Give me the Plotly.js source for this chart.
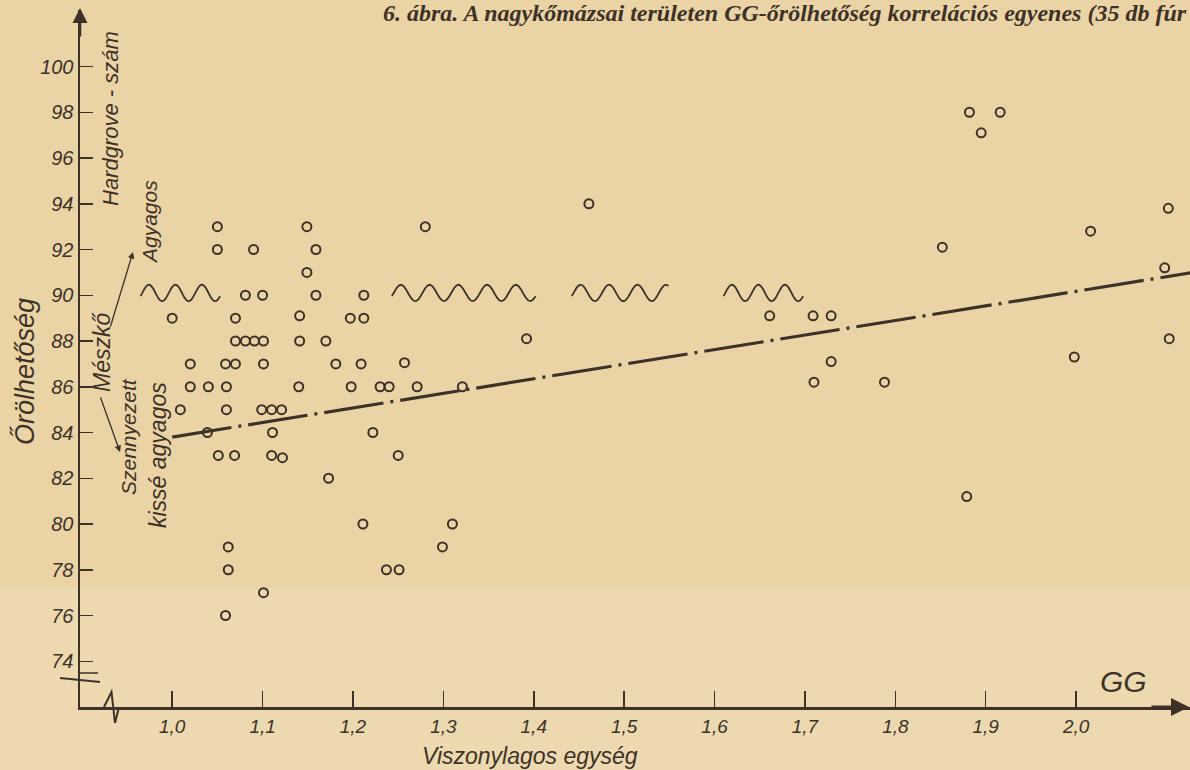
<!DOCTYPE html>
<html>
<head>
<meta charset="utf-8">
<script src="https://cdn.plot.ly/plotly-3.0.1.min.js"></script>
<style>
  html, body { margin: 0; padding: 0; background: #EAD4A6; }
  #chart { width: 1190px; height: 770px; }
</style>
</head>
<body>
<div id="chart"></div>
<script>
// ---- data ----
const gg = [
  1.050, 1.050, 1.090, 1.149, 1.159, 1.149, 1.159, 1.081, 1.100, 1.212,
  1.000, 1.070, 1.141, 1.197, 1.212,
  1.070, 1.081, 1.091, 1.101, 1.141, 1.170, 1.392,
  1.020, 1.059, 1.070, 1.101, 1.181, 1.209, 1.257,
  1.020, 1.040, 1.060, 1.140, 1.198, 1.230, 1.240, 1.271, 1.321,
  1.009, 1.060, 1.099, 1.110, 1.121,
  1.039, 1.111, 1.222,
  1.051, 1.069, 1.110, 1.122, 1.250,
  1.173, 1.211, 1.310, 1.062, 1.299, 1.062, 1.237, 1.251, 1.101, 1.059,
  1.280, 1.461,
  1.661, 1.709, 1.729, 1.729, 1.710, 1.788,
  1.852, 1.879, 1.882, 1.916, 1.895, 1.998, 2.016, 2.098, 2.102, 2.103
];
const hgi = [
  93, 92, 92, 93, 92, 91, 90, 90, 90, 90,
  89, 89, 89.1, 89, 89,
  88, 88, 88, 88, 88, 88, 88.1,
  87, 87, 87, 87, 87, 87, 87.05,
  86, 86, 86, 86, 86, 86, 86, 86, 86,
  85, 85, 85, 85, 85,
  84, 84, 84,
  83, 83, 83, 82.9, 83,
  82, 80, 80, 79, 79, 78, 78, 78, 77, 76,
  93, 94,
  89.1, 89.1, 89.1, 87.1, 86.2, 86.2,
  92.1, 81.2, 98, 98, 97.1, 87.3, 92.8, 91.2, 93.8, 88.1
];
// regression line end points
const fitX = [1.0, 2.13];
const fitY = [83.8, 91.0];
// x ticks
const xTickVals = [1.0, 1.1, 1.2, 1.3, 1.4, 1.5, 1.6, 1.7, 1.8, 1.9, 2.0];
const xTickText = ['1,0', '1,1', '1,2', '1,3', '1,4', '1,5', '1,6', '1,7', '1,8', '1,9', '2,0'];
// y ticks
const yTickVals = [74, 76, 78, 80, 82, 84, 86, 88, 90, 92, 94, 96, 98, 100];
const yTickText = ['74', '76', '78', '80', '82', '84', '86', '88', '90', '92', '94', '96', '98', '100'];
// wavy symbols at the 90 level
const waveStart = [0.965, 1.243, 1.442, 1.610];
const waveEnd = [1.053, 1.402, 1.549, 1.698];
const waveCycles = [3, 5, 3.4, 3];
const waveLevel = 90.1;

// ---- style ----
const INK = '#3e3228';
const BG = '#EAD4A6';
const BG_LOW = '#ECD9AF';
const HAND = '"Liberation Sans", Arial, sans-serif';
const L = 80, T = 10, W = 1110, H = 697;
const px = v => (v - L) / W;
const py = v => (T + H - v) / H;

const shapes = [];
// lighter lower band of the paper (scan tone)
shapes.push({ type: 'rect', xref: 'paper', yref: 'paper', layer: 'below',
  x0: px(0), x1: px(1190), y0: py(770), y1: py(588), fillcolor: BG_LOW, line: { width: 0 } });
// wave paths
for (let i = 0; i < waveStart.length; i++) {
  const n = 60;
  let d = '';
  for (let k = 0; k <= n; k++) {
    const t = k / n;
    const x = waveStart[i] + (waveEnd[i] - waveStart[i]) * t;
    const y = waveLevel + 0.36 * Math.sin(2 * Math.PI * waveCycles[i] * t - 0.4);
    d += (k === 0 ? 'M ' : ' L ') + x.toFixed(4) + ',' + y.toFixed(3);
  }
  shapes.push({ type: 'path', xref: 'x', yref: 'y', path: d, line: { color: INK, width: 1.8 } });
}
// axis break marks (decorative)
shapes.push({ type: 'path', xref: 'paper', yref: 'paper',
  path: 'M ' + px(104) + ',' + py(707) + ' L ' + px(111.5) + ',' + py(692) + ' L ' + px(115) + ',' + py(723) + ' L ' + px(119) + ',' + py(707),
  line: { color: INK, width: 2 } });
shapes.push({ type: 'line', xref: 'paper', yref: 'paper', x0: px(60), y0: py(678), x1: px(100), y1: py(682), line: { color: INK, width: 2 } });
shapes.push({ type: 'line', xref: 'paper', yref: 'paper', x0: px(80), y0: py(673), x1: px(98), y1: py(673), line: { color: INK, width: 1.5 } });

const annFont = (s) => ({ family: HAND, size: s, color: INK, style: 'italic' });
const lab = (text, x, y, size, angle) => ({
  text: text, xref: 'paper', yref: 'paper', x: px(x), y: py(y), xanchor: 'center', yanchor: 'middle',
  textangle: angle, showarrow: false, font: annFont(size)
});
const annotations = [
  lab('Őrölhetőség', 25, 372, 27, -90),
  lab('Hardgrove - szám', 111, 119, 22, -90),
  lab('Agyagos', 149, 222, 21, -90),
  lab('Mészkő', 102, 352, 23, -90),
  lab('Szennyezett', 129, 437, 21, -90),
  lab('kissé agyagos', 158, 455, 23, -90),
  lab('GG', 1123, 681, 30, 0),
  lab('Viszonylagos egység', 530, 756, 23, 0),
  // arrows
  { text: '', xref: 'paper', yref: 'paper', x: px(133), y: py(252), ax: -23, ay: 76, showarrow: true, arrowhead: 2, arrowsize: 1, arrowwidth: 1.3, arrowcolor: INK },
  { text: '', xref: 'paper', yref: 'paper', x: px(120), y: py(452), ax: -20, ay: -56, showarrow: true, arrowhead: 2, arrowsize: 1, arrowwidth: 1.3, arrowcolor: INK },
  { text: '', xref: 'paper', yref: 'paper', x: 1, y: 0, ax: -40, ay: 0, showarrow: true, arrowhead: 2, arrowsize: 1.2, arrowwidth: 3, arrowcolor: INK },
  { text: '', xref: 'paper', yref: 'paper', x: 0, y: py(8), ax: 0, ay: 30, showarrow: true, arrowhead: 2, arrowsize: 1.2, arrowwidth: 2.5, arrowcolor: INK }
];

const traces = [
  { x: fitX, y: fitY, type: 'scatter', mode: 'lines', hoverinfo: 'skip',
    line: { color: INK, width: 3.2, dash: '60px,7px,3px,7px' } },
  { x: gg, y: hgi, type: 'scatter', mode: 'markers',
    marker: { symbol: 'circle-open', size: 9, color: INK, line: { width: 2, color: INK } } }
];

const layout = {
  width: 1190, height: 770,
  margin: { l: L, r: 0, t: T, b: 770 - T - H, pad: 0 },
  paper_bgcolor: BG, plot_bgcolor: 'rgba(0,0,0,0)',
  showlegend: false,
  title: { text: '6. ábra. A nagykőmázsai területen GG-őrölhetőség korrelációs egyenes (35 db fúr',
    xref: 'container', yref: 'container', x: 383 / 1190, xanchor: 'left', y: 1 - 13 / 770, yanchor: 'middle',
    font: { family: '"Liberation Serif", "DejaVu Serif", serif', size: 24, color: INK, style: 'italic', weight: 'bold' } },
  xaxis: {
    range: [0.898, 2.126], showgrid: false, zeroline: false,
    showline: true, linecolor: INK, linewidth: 3,
    ticks: 'inside', ticklen: 16, tickwidth: 1.5, tickcolor: INK,
    tickvals: xTickVals, ticktext: xTickText,
    tickfont: { family: HAND, size: 19, color: INK, style: 'italic' }
  },
  yaxis: {
    range: [72.0, 102.47], showgrid: false, zeroline: false,
    showline: true, linecolor: INK, linewidth: 2.5,
    ticks: 'inside', ticklen: 13, tickwidth: 1.5, tickcolor: INK,
    tickvals: yTickVals, ticktext: yTickText,
    tickfont: { family: HAND, size: 20, color: INK, style: 'italic' }
  },
  shapes: shapes,
  annotations: annotations
};

Plotly.newPlot('chart', traces, layout, { displayModeBar: false, staticPlot: true });
</script>
</body>
</html>
